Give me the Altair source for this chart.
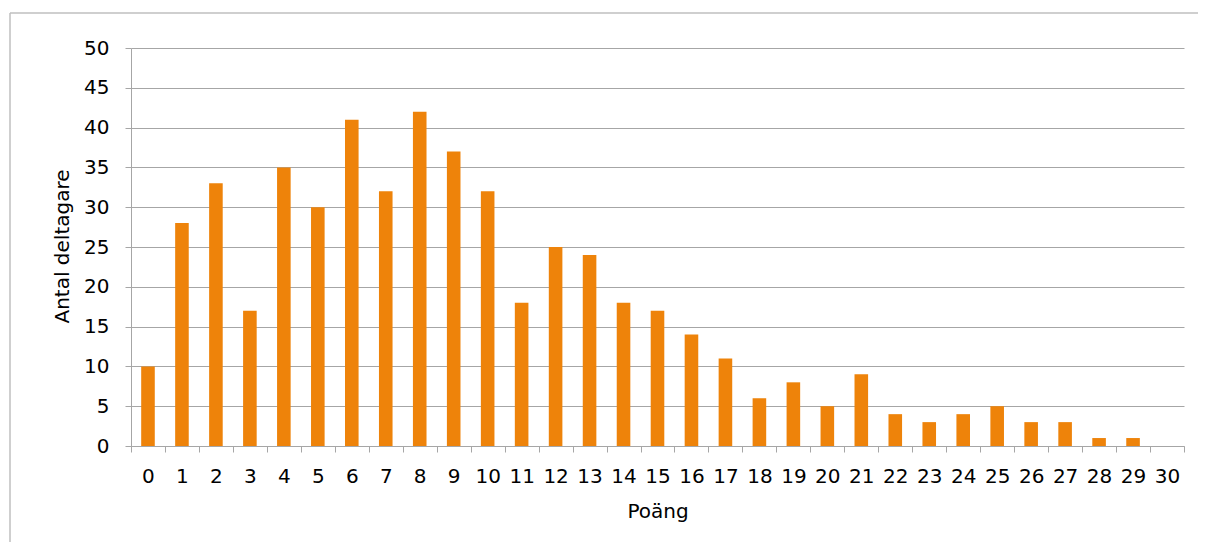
import altair as alt
import pandas as pd

poang = [str(i) for i in range(31)]
antal = [10, 28, 33, 17, 35, 30, 41, 32, 42, 37, 32, 18, 25, 24, 18, 17, 14, 11, 6, 8, 5, 9, 4, 3, 4, 5, 3, 3, 1, 1, 0]

df = pd.DataFrame({"Poäng": poang, "Antal": antal})

FONT = "DejaVu Sans"
GRID = "#A6A6A6"

bars = alt.Chart(df).mark_bar(color="#EE830A", width=alt.RelativeBandSize(0.4)).encode(
    x=alt.X("Poäng:O", sort=poang,
            scale=alt.Scale(paddingInner=0, paddingOuter=0),
            axis=alt.Axis(title="Poäng", labelAngle=0, tickBand="extent",
                          domainColor=GRID, tickColor=GRID, tickSize=6,
                          labelPadding=14, labelFontSize=20, labelColor="#000000",
                          labelFont=FONT, titleFont=FONT, titleFontSize=20,
                          titleFontWeight="normal", titleColor="#000000",
                          titleY=55, titleBaseline="top", grid=False)),
    y=alt.Y("Antal:Q",
            scale=alt.Scale(domain=[0, 50], nice=False),
            axis=alt.Axis(title="Antal deltagare", values=list(range(0, 51, 5)),
                          grid=True, gridColor=GRID, domainColor=GRID, tickColor=GRID,
                          tickSize=6, labelPadding=16, labelFontSize=20,
                          labelColor="#000000", labelFont=FONT, titleFont=FONT,
                          titleFontSize=20, titleFontWeight="normal",
                          titleColor="#000000", titleX=-63, titleY=198,
                          titleAngle=270, titleBaseline="alphabetic", titleAlign="center")),
)

frame_data = alt.Data(values=[{}])
frame_top = alt.Chart(frame_data).mark_rule(color="#BFBFBF", strokeWidth=1.5).encode(
    x=alt.value(-121), x2=alt.value(1300), y=alt.value(-35)
)
frame_left = alt.Chart(frame_data).mark_rule(color="#BFBFBF", strokeWidth=1.5).encode(
    x=alt.value(-121), y=alt.value(-35), y2=alt.value(700)
)

chart = alt.layer(frame_top, frame_left, bars).properties(
    width=1053, height=398,
    autosize=alt.AutoSizeParams(type="none"),
    padding={"left": 123, "top": 40, "right": 14, "bottom": 96},
).configure_view(stroke=None)

chart.save("out.html", embed_options={"renderer": "svg", "actions": False})
